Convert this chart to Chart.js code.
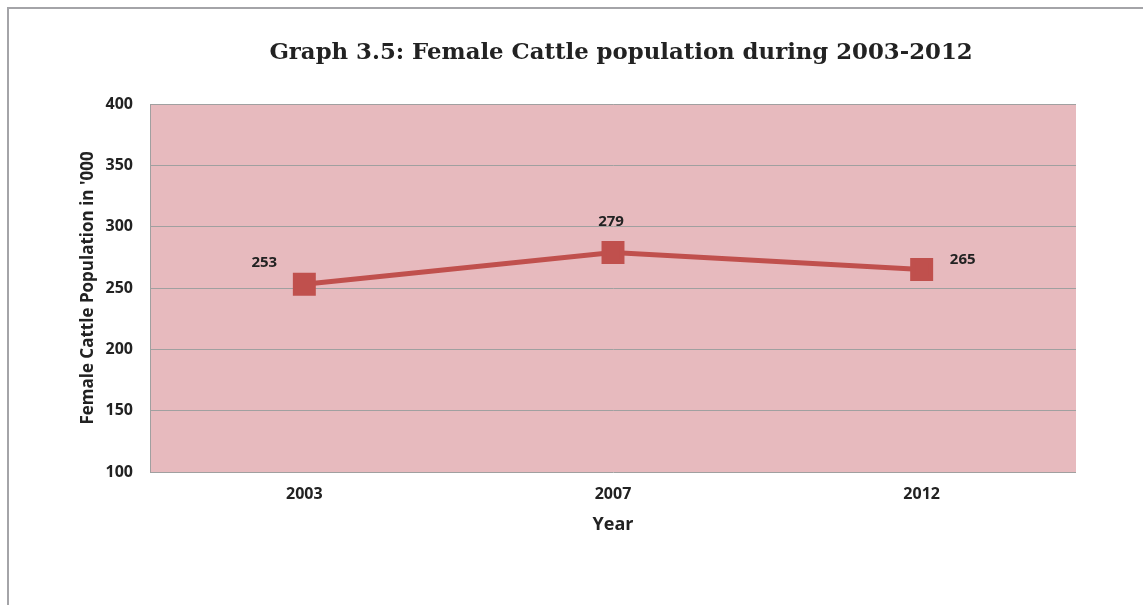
<!DOCTYPE html>
<html>
<head>
<meta charset="utf-8">
<script src="https://cdn.jsdelivr.net/npm/chart.js@4"></script>
<style>
  html, body { margin: 0; padding: 0; background: #fff; overflow: hidden; }
  #frame { position: absolute; left: 7px; top: 7px; width: 1200px; height: 700px;
           border-top: 2px solid #a4a4a8; border-left: 2px solid #a4a4a8; }
  #wrap { position: absolute; left: 0; top: 0; width: 1143px; height: 605px; }
</style>
</head>
<body>
<div id="frame"></div>
<div id="wrap"><canvas id="cattle_chart"></canvas></div>
<script>
const years = ['2003', '2007', '2012']
const femaleCattle = [253, 279, 265]
const yTicks = [100, 150, 200, 250, 300, 350, 400]
const chartTitle = 'Graph 3.5: Female Cattle population during 2003-2012'

// where each value label sits relative to its point
const labelShift = [[-40, -22], [-2, -31], [41, -10]]

const plotBackground = {
    id: 'plotBackground',
    beforeDraw(chart) {
        const { ctx, chartArea: a } = chart
        ctx.save()
        ctx.fillStyle = '#e7babe'
        ctx.fillRect(a.left, a.top, a.right - a.left, a.bottom - a.top)
        ctx.restore()
    }
}

const valueLabels = {
    id: 'valueLabels',
    afterDatasetsDraw(chart) {
        const ctx = chart.ctx
        const pts = chart.getDatasetMeta(0).data
        ctx.save()
        ctx.font = 'bold 15px "Open Sans"'
        ctx.fillStyle = '#222'
        ctx.textAlign = 'center'
        ctx.textBaseline = 'middle'
        pts.forEach((p, i) => {
            ctx.fillText(femaleCattle[i], p.x + labelShift[i][0], p.y + labelShift[i][1])
        })
        ctx.restore()
    }
}

const bigTitle = {
    id: 'bigTitle',
    afterDraw(chart) {
        const ctx = chart.ctx
        const a = chart.chartArea
        ctx.save()
        ctx.font = 'bold 22.8px "DejaVu Serif"'
        ctx.fillStyle = '#222'
        ctx.textAlign = 'center'
        ctx.textBaseline = 'middle'
        ctx.fillText(chartTitle, (a.left + a.right) / 2 + 8, 53)
        ctx.restore()
    }
}

const config = {
    type: 'line',
    data: {
        labels: years,
        datasets: [{
            data: femaleCattle,
            borderColor: '#c0504d',
            backgroundColor: '#c0504d',
            borderWidth: 5,
            pointStyle: 'rect',
            pointRadius: 12.7,
            pointHoverRadius: 12.7,
            tension: 0,
            fill: false
        }]
    },
    options: {
        responsive: true,
        maintainAspectRatio: false,
        animation: false,
        layout: { padding: { top: 104, right: 67, left: 0, bottom: 0 } },
        plugins: {
            legend: { display: false },
            tooltip: { enabled: false },
            title: { display: false }
        },
        scales: {
            x: {
                offset: true,
                grid: { display: false, drawTicks: false },
                border: { display: false },
                ticks: { color: '#222', font: { family: 'Open Sans', size: 16, weight: 'bold' }, padding: 13 },
                title: { display: true, text: 'Year', color: '#222',
                         font: { family: 'Open Sans', size: 18, weight: 'bold' }, padding: { top: 0, bottom: 69.2 } },
                afterFit(scale) { scale.height = 605 - 472 }
            },
            y: {
                min: 100,
                max: 400,
                afterBuildTicks(scale) { scale.ticks = yTicks.map(v => ({ value: v })) },
                grid: { color: '#a0a0a0', lineWidth: 1, drawTicks: false },
                border: { display: true, color: '#a0a0a0', width: 1 },
                ticks: { color: '#222', font: { family: 'Open Sans', size: 16, weight: 'bold' }, padding: 17 },
                title: { display: true, text: "Female Cattle Population in '000", color: '#222',
                         font: { family: 'Open Sans', size: 17, weight: 'bold' }, padding: { top: 77.8, bottom: 0 } },
                afterFit(scale) { scale.width = 150 }
            }
        }
    },
    plugins: [plotBackground, valueLabels, bigTitle]
}

new Chart(document.getElementById('cattle_chart'), config)
</script>
</body>
</html>
